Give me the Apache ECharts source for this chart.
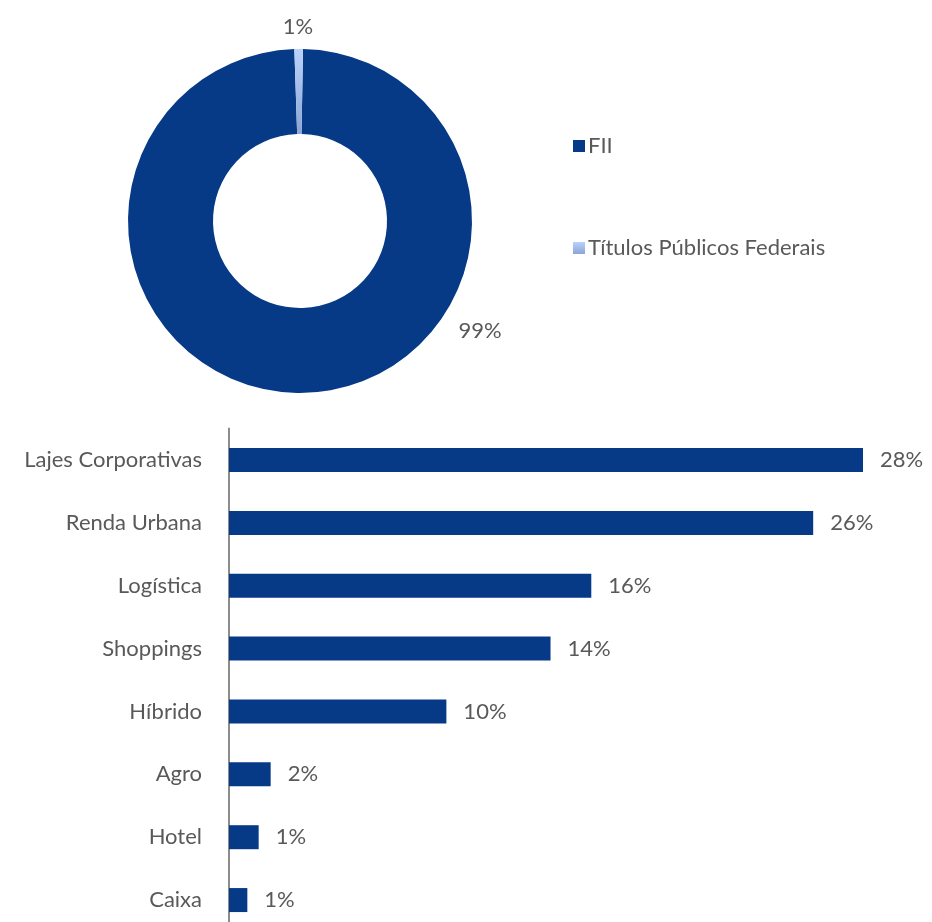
<!DOCTYPE html>
<html>
<head>
<meta charset="utf-8">
<script src="https://cdn.jsdelivr.net/npm/echarts@6/dist/echarts.min.js"></script>
<style>
  html, body { margin: 0; padding: 0; background: #fff; }
  #chart { width: 932px; height: 922px; }
</style>
</head>
<body>
<div id="chart"></div>
<script>
// composição da carteira (donut)
const pieNames = ['FII', 'Títulos Públicos Federais']
const pieValues = [99.2, 0.8]

// alocação por segmento (barras)
const segments = ['Lajes Corporativas', 'Renda Urbana', 'Logística', 'Shoppings', 'Híbrido', 'Agro', 'Hotel', 'Caixa']
const segValues = [28, 25.8, 16, 14.2, 9.6, 1.84, 1.31, 0.81]

const DARK = '#063a87'
const TEXT = '#595959'
const FONT = 'Lato, "Open Sans", sans-serif'
const FS = 22

const chart = echarts.init(document.getElementById('chart'))

const lightFill = new echarts.graphic.RadialGradient(300, 221, 172, [
  {offset: 0.5, color: '#8aa5d6'},
  {offset: 1, color: '#bad2fb'}
], true)
const lightIcon = new echarts.graphic.LinearGradient(0, 0, 0, 1, [
  {offset: 0, color: '#bad2fb'},
  {offset: 1, color: '#8aa5d6'}
])

chart.setOption({
  animation: false,
  textStyle: {fontFamily: FONT},
  legend: {
    orient: 'vertical',
    left: 568,
    top: 130,
    itemWidth: 12,
    itemHeight: 12,
    itemGap: 80,
    icon: 'rect',
    textStyle: {color: TEXT, fontSize: FS, lineHeight: 22, fontFamily: FONT, padding: [0, 0, 0, -2]},
    data: [
      {name: pieNames[0]},
      {name: pieNames[1], itemStyle: {color: lightIcon}}
    ]
  },
  grid: {left: 229, right: 69, top: 428.6, height: 502.9, outerBoundsMode: 'none'},
  xAxis: {
    type: 'value',
    min: 0,
    max: 28,
    show: false
  },
  yAxis: {
    type: 'category',
    inverse: true,
    data: segments,
    axisLine: {show: true, lineStyle: {color: '#8c8c8c', width: 2}},
    axisTick: {show: false},
    axisLabel: {color: TEXT, fontSize: FS, fontFamily: FONT, margin: 27}
  },
  series: [
    {
      type: 'pie',
      center: [300, 221],
      radius: [87, 172],
      startAngle: 89,
      clockwise: true,
      data: pieNames.map((n, i) => ({
        name: n,
        value: pieValues[i],
        itemStyle: {color: i === 0 ? DARK : lightFill}
      })),
      label: {
        show: true,
        position: 'outside',
        color: TEXT,
        fontSize: FS,
        fontFamily: FONT,
        formatter: p => Math.round(p.value) + '%'
      },
      labelLine: {show: false, length: 8, length2: 0},
      labelLayout: p => p.dataIndex === 0
        ? {x: 480, y: 331, align: 'center', verticalAlign: 'middle'}
        : {x: 298, y: 27, align: 'center', verticalAlign: 'middle'}
    },
    {
      type: 'bar',
      data: segValues,
      barWidth: 24,
      itemStyle: {color: DARK},
      label: {
        show: true,
        position: 'right',
        distance: 17,
        color: TEXT,
        fontSize: FS,
        fontFamily: FONT,
        formatter: p => Math.round(p.value) + '%'
      }
    }
  ]
})
</script>
</body>
</html>
